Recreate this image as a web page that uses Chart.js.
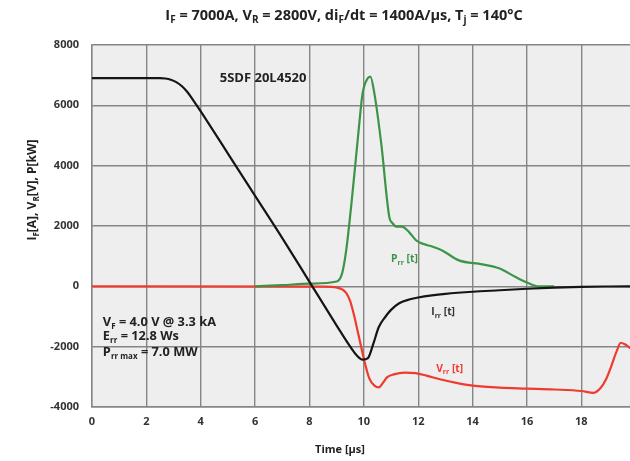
<!DOCTYPE html>
<html>
<head>
<meta charset="utf-8">
<script src="https://cdn.jsdelivr.net/npm/chart.js@4"></script>
<style>
  html, body { margin: 0; padding: 0; background: #fff; overflow: hidden; }
  #wrap { width: 650px; height: 461px; }
</style>
</head>
<body>
<div id="wrap"><canvas id="grafico" width="650" height="461"></canvas></div>
<script>
// forward current I_rr(t) [A]
const tempoI = [0, 2.5, 2.7, 2.9, 3.1, 3.3, 3.5, 3.7, 4, 5, 6, 7, 8, 9, 9.5, 9.75, 9.95, 10.15, 10.35, 10.55, 10.8, 11.0, 11.3, 11.7, 12, 12.5, 13, 14, 15, 16, 17, 18, 19, 20];
const corrente = [6900, 6900, 6890, 6850, 6770, 6640, 6450, 6200, 5800, 4400, 3000, 1600, 150, -1300, -2000, -2300, -2430, -2380, -1900, -1350, -1000, -780, -560, -430, -370, -300, -250, -180, -130, -80, -40, -15, -5, 0];

// recovery power P_rr(t) [kW]
const tempoP = [6, 7, 8, 9, 9.2, 9.35, 9.58, 9.8, 9.95, 10.13, 10.24, 10.39, 10.64, 10.94, 11.05, 11.19, 11.4, 11.67, 11.93, 12.2, 12.51, 12.88, 13.5, 14.35, 14.97, 15.6, 16.0, 16.44, 17.0];
const potencia = [0, 40, 90, 160, 430, 1190, 3070, 5100, 6380, 6880, 6950, 6380, 4730, 2280, 2100, 1980, 1980, 1790, 1520, 1400, 1320, 1190, 860, 730, 600, 300, 130, 0, 0];

// reverse voltage V_rr(t) [V]
const tempoV = [0, 8.5, 9.0, 9.2, 9.35, 9.5, 9.65, 9.8, 10.0, 10.2, 10.4, 10.55, 10.7, 10.85, 11.1, 11.5, 11.9, 12.3, 12.8, 13.4, 14, 15, 16, 17, 18, 18.45, 18.7, 18.9, 19.1, 19.3, 19.45, 19.6, 19.8, 20];
const tensao = [0, -10, -40, -100, -220, -500, -1000, -1600, -2400, -3050, -3300, -3350, -3200, -3020, -2920, -2860, -2880, -2960, -3080, -3200, -3290, -3360, -3390, -3420, -3470, -3530, -3380, -3100, -2650, -2150, -1870, -1920, -2050, -2150];

const ticksX = [0, 2, 4, 6, 8, 10, 12, 14, 16, 18, 20];
const ticksY = [-4000, -2000, 0, 2000, 4000, 6000, 8000];

const FONTE = '"Open Sans", "DejaVu Sans", sans-serif';
const COR_TXT = '#333';
const COR_GRADE = '#858585';

function pontos(xs, ys){ return xs.map((x, i) => ({x: x, y: ys[i]})); }

// text with subscripts: partes = [[texto, sub], ...]
function textoRico(ctx, partes, x, y, tam, alinhar, cor){
  const fn = s => `bold ${s ? Math.round(tam * 0.66) : tam}px ${FONTE}`;
  let larg = 0;
  partes.forEach(p => { ctx.font = fn(p[1]); larg += ctx.measureText(p[0]).width; });
  let px = alinhar === 'center' ? x - larg / 2 : x;
  ctx.fillStyle = cor;
  ctx.textAlign = 'left';
  ctx.textBaseline = 'alphabetic';
  partes.forEach(p => {
    ctx.font = fn(p[1]);
    ctx.fillText(p[0], px, p[1] ? y + tam * 0.22 : y);
    px += ctx.measureText(p[0]).width;
  });
}

const fundoPlot = {
  id: 'fundoPlot',
  beforeDraw(chart){
    const {ctx, chartArea: a} = chart;
    ctx.save();
    ctx.fillStyle = '#ffffff';
    ctx.fillRect(0, 0, chart.width, chart.height);
    ctx.fillStyle = '#eeeeee';
    ctx.fillRect(a.left, a.top, a.right - a.left, a.bottom - a.top);
    ctx.restore();
  }
};

const textos = {
  id: 'textos',
  afterDraw(chart){
    const ctx = chart.ctx;
    const sx = chart.scales.x, sy = chart.scales.y;
    const X = v => sx.getPixelForValue(v), Y = v => sy.getPixelForValue(v);
    ctx.save();
    // title
    textoRico(ctx, [['I', 0], ['F', 1], [' = 7000A, V', 0], ['R', 1], [' = 2800V, di', 0], ['F', 1], ['/dt = 1400A/\u00b5s, T', 0], ['j', 1], [' = 140\u00b0C', 0]], 344, 20, 14.5, 'center', '#222');
    // x title
    textoRico(ctx, [['Time [\u00b5s]', 0]], 340, 453, 11, 'center', '#222');
    // y title (rotated)
    ctx.save();
    ctx.translate(36, 190);
    ctx.rotate(-Math.PI / 2);
    textoRico(ctx, [['I', 0], ['F', 1], ['[A], V', 0], ['R', 1], ['[V], P[kW]', 0]], 0, 0, 12, 'center', '#222');
    ctx.restore();
    // device name
    textoRico(ctx, [['5SDF 20L4520', 0]], X(4.7), Y(6900) + 4, 13, 'left', '#222');
    // curve labels
    textoRico(ctx, [['P', 0], ['rr', 1], [' [t]', 0]], X(11.0), Y(890) + 3, 10.3, 'left', '#3c9447');
    textoRico(ctx, [['I', 0], ['rr', 1], [' [t]', 0]], X(12.48), Y(-860) + 3, 10.3, 'left', '#333');
    textoRico(ctx, [['V', 0], ['rr', 1], [' [t]', 0]], X(12.66), Y(-2740) + 3, 10.3, 'left', '#f03a2e');
    // parameters block
    textoRico(ctx, [['V', 0], ['F', 1], [' = 4.0 V @ 3.3 kA', 0]], X(0.4), Y(-1190) + 4, 12.8, 'left', '#222');
    textoRico(ctx, [['E', 0], ['rr', 1], [' = 12.8 Ws', 0]], X(0.4), Y(-1650) + 4, 12.8, 'left', '#222');
    textoRico(ctx, [['P', 0], ['rr max', 1], [' = 7.0 MW', 0]], X(0.4), Y(-2180) + 4, 12.8, 'left', '#222');
    ctx.restore();
  }
};

const ctx = document.getElementById('grafico').getContext('2d');
new Chart(ctx, {
  type: 'line',
  data: {
    datasets: [
      { label: 'Irr', data: pontos(tempoI, corrente), borderColor: '#151515', borderWidth: 2.2, pointRadius: 0, cubicInterpolationMode: 'monotone', fill: false },
      { label: 'Prr', data: pontos(tempoP, potencia), borderColor: '#3c9447', borderWidth: 2.2, pointRadius: 0, cubicInterpolationMode: 'monotone', fill: false },
      { label: 'Vrr', data: pontos(tempoV, tensao), borderColor: '#f03a2e', borderWidth: 2.2, pointRadius: 0, cubicInterpolationMode: 'monotone', fill: false }
    ]
  },
  options: {
    responsive: false,
    animation: false,
    layout: { padding: { top: 45, right: 13, left: 0, bottom: 0 } },
    plugins: { legend: { display: false }, tooltip: { enabled: false }, title: { display: false } },
    scales: {
      x: {
        type: 'linear', min: 0, max: 20,
        afterBuildTicks: s => { s.ticks = ticksX.map(v => ({value: v})); },
        ticks: { color: COR_TXT, padding: 8, maxRotation: 0, callback: v => String(v), font: { family: FONTE, size: 11, weight: 'bold' } },
        grid: { color: COR_GRADE, lineWidth: 1.4, drawTicks: false },
        border: { color: COR_GRADE, width: 1.4 },
        afterFit: s => { s.height = 54; }
      },
      y: {
        min: -4000, max: 8000,
        afterBuildTicks: s => { s.ticks = ticksY.map(v => ({value: v})); },
        ticks: { color: COR_TXT, padding: 13, callback: v => String(v), font: { family: FONTE, size: 11, weight: 'bold' } },
        grid: { color: COR_GRADE, lineWidth: 1.4, drawTicks: false },
        border: { color: COR_GRADE, width: 1.4 },
        afterFit: s => { s.width = 92; }
      }
    }
  },
  plugins: [fundoPlot, textos]
});
</script>
</body>
</html>
